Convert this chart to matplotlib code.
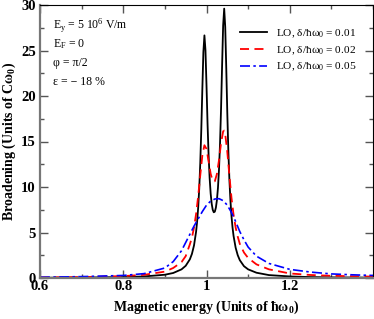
import matplotlib
matplotlib.use("Agg")
import matplotlib.pyplot as plt
from matplotlib.ticker import MultipleLocator

plt.rcParams['font.family'] = ['Liberation Serif', 'DejaVu Serif']
plt.rcParams['mathtext.fontset'] = 'custom'
plt.rcParams['mathtext.rm'] = 'Liberation Serif'
plt.rcParams['mathtext.it'] = 'Liberation Serif:italic'
plt.rcParams['mathtext.bf'] = 'Liberation Serif:bold'

# ---- data ----
x_black = [0.6, 0.7, 0.8, 0.85, 0.9, 0.92, 0.94, 0.95, 0.96, 0.965, 0.97,
           0.975, 0.9775, 0.98, 0.9825, 0.985, 0.9875, 0.99, 0.9925, 0.995,
           0.9975, 1.0, 1.0025, 1.005, 1.0075, 1.01, 1.0125, 1.015, 1.0175,
           1.02, 1.0225, 1.025, 1.0275, 1.03, 1.0325, 1.035, 1.0375, 1.04,
           1.0425, 1.045, 1.0475, 1.05, 1.0525, 1.055, 1.0575, 1.06, 1.0625,
           1.065, 1.07, 1.075, 1.08, 1.09, 1.1, 1.12, 1.15, 1.2, 1.25, 1.3, 1.4]
y_black = [0.03, 0.05, 0.10, 0.17, 0.36, 0.55, 0.95, 1.34, 2.05, 2.65, 3.58,
           5.09, 6.21, 7.73, 9.79, 12.60, 16.31, 20.73, 24.83, 26.66,
           25.05, 21.17, 16.98, 13.53, 11.01, 9.28, 8.15, 7.49, 7.22,
           7.29, 7.72, 8.55, 9.89, 11.90, 14.77, 18.68, 23.40, 27.77,
           29.60, 27.57, 23.01, 18.07, 13.94, 10.81, 8.51, 6.82, 5.57,
           4.63, 3.33, 2.51, 1.96, 1.30, 0.95, 0.58, 0.32, 0.17, 0.10, 0.07, 0.04]

x_red = [0.6, 0.7, 0.8, 0.85, 0.9, 0.92, 0.94, 0.95, 0.96, 0.965, 0.97,
         0.975, 0.98, 0.985, 0.99, 0.995, 1.0, 1.005, 1.01, 1.015, 1.02,
         1.025, 1.03, 1.035, 1.04, 1.0425, 1.045, 1.05, 1.055, 1.06, 1.065,
         1.07, 1.075, 1.08, 1.09, 1.1, 1.12, 1.15, 1.2, 1.25, 1.3, 1.4]
y_red = [0.06, 0.10, 0.21, 0.35, 0.70, 1.10, 1.75, 2.40, 3.70, 4.43, 5.54,
         7.04, 8.99, 11.29, 13.46, 14.59, 14.19, 12.82, 11.45, 10.65, 10.63,
         11.43, 12.96, 14.83, 16.12, 16.20, 15.80, 13.85, 11.24, 8.82, 6.95,
         5.55, 4.55, 3.75, 2.80, 2.20, 1.50, 0.95, 0.50, 0.33, 0.24, 0.15]

x_blue = [0.6, 0.7, 0.8, 0.85, 0.9, 0.92, 0.94, 0.95, 0.96, 0.97, 0.98,
          0.99, 1.0, 1.01, 1.02, 1.03, 1.04, 1.05, 1.06, 1.07, 1.08, 1.09,
          1.1, 1.12, 1.15, 1.2, 1.25, 1.3, 1.35, 1.4]
y_blue = [0.08, 0.15, 0.28, 0.48, 1.10, 1.80, 3.00, 3.90, 4.80, 5.70, 6.50,
          7.30, 8.00, 8.45, 8.68, 8.72, 8.50, 8.00, 7.20, 6.20, 5.10, 4.20,
          3.40, 2.40, 1.60, 0.95, 0.65, 0.45, 0.35, 0.28]

labels = [r"LO, δ/ħω$_0$ = 0.01", r"LO, δ/ħω$_0$ = 0.02", r"LO, δ/ħω$_0$ = 0.05"]
annotations = [r"E$_\mathrm{y}$ = 5 10$^\mathrm{6}$ V/m", r"E$_\mathrm{F}$ = 0",
               "φ = π/2", "ε = − 18 %"]

fig = plt.figure(figsize=(3.74, 3.19), dpi=100)
ax = fig.add_axes([40/374, 41/319, 333/374, 273/319])

ax.plot(x_black, y_black, color='black', lw=1.3, label=labels[0])
ax.plot(x_red, y_red, color='#ff0000', lw=1.3, ls=(0, (5, 3)), label=labels[1])
ax.plot(x_blue, y_blue, color='#0000ff', lw=1.2, ls=(0, (6, 2, 1.5, 2)), label=labels[2])

ax.set_xlim(0.6, 1.4)
ax.set_ylim(0, 30)
ax.xaxis.set_major_locator(MultipleLocator(0.2))
ax.xaxis.set_minor_locator(MultipleLocator(0.1))
ax.yaxis.set_major_locator(MultipleLocator(5))
ax.yaxis.set_minor_locator(MultipleLocator(2.5))
ax.set_xticks([0.6, 0.8, 1.0, 1.2])
ax.set_xticklabels(["0.6", "0.8", "1", "1.2"])
ax.tick_params(which='both', direction='in', top=True, right=True, color='#555555')
ax.tick_params(which='major', length=6, width=1, labelsize=10.5)
ax.tick_params(axis='x', which='major', pad=1.5)
ax.tick_params(axis='y', which='major', pad=3)
ax.tick_params(which='minor', length=3, width=1)
for lab in ax.get_xticklabels() + ax.get_yticklabels():
    lab.set_fontweight('bold')

for side in ['left', 'bottom']:
    ax.spines[side].set_color('#777777')
    ax.spines[side].set_linewidth(1.6)
ax.spines['top'].set_color('black')
ax.spines['right'].set_color('black')

ax.set_xlabel(r"Magnetic energy (Units of ħω$_\mathbf{0}$)", fontweight='bold', fontsize=10, labelpad=4)
ax.set_ylabel(r"Broadening (Units of Cω$_\mathbf{0}$)", fontweight='bold', fontsize=10, labelpad=2)

for i, t in enumerate(annotations):
    ax.text(0.04, 0.925 - i * 0.069, t, transform=ax.transAxes, fontsize=8.5, va='center', ha='left')

leg = ax.legend(loc='upper left', bbox_to_anchor=(0.6, 0.918), frameon=False,
                fontsize=8.2, handlelength=2.4, handletextpad=0.75, labelspacing=0.38,
                borderpad=0, borderaxespad=0)

fig.savefig("out.png", dpi=100)
